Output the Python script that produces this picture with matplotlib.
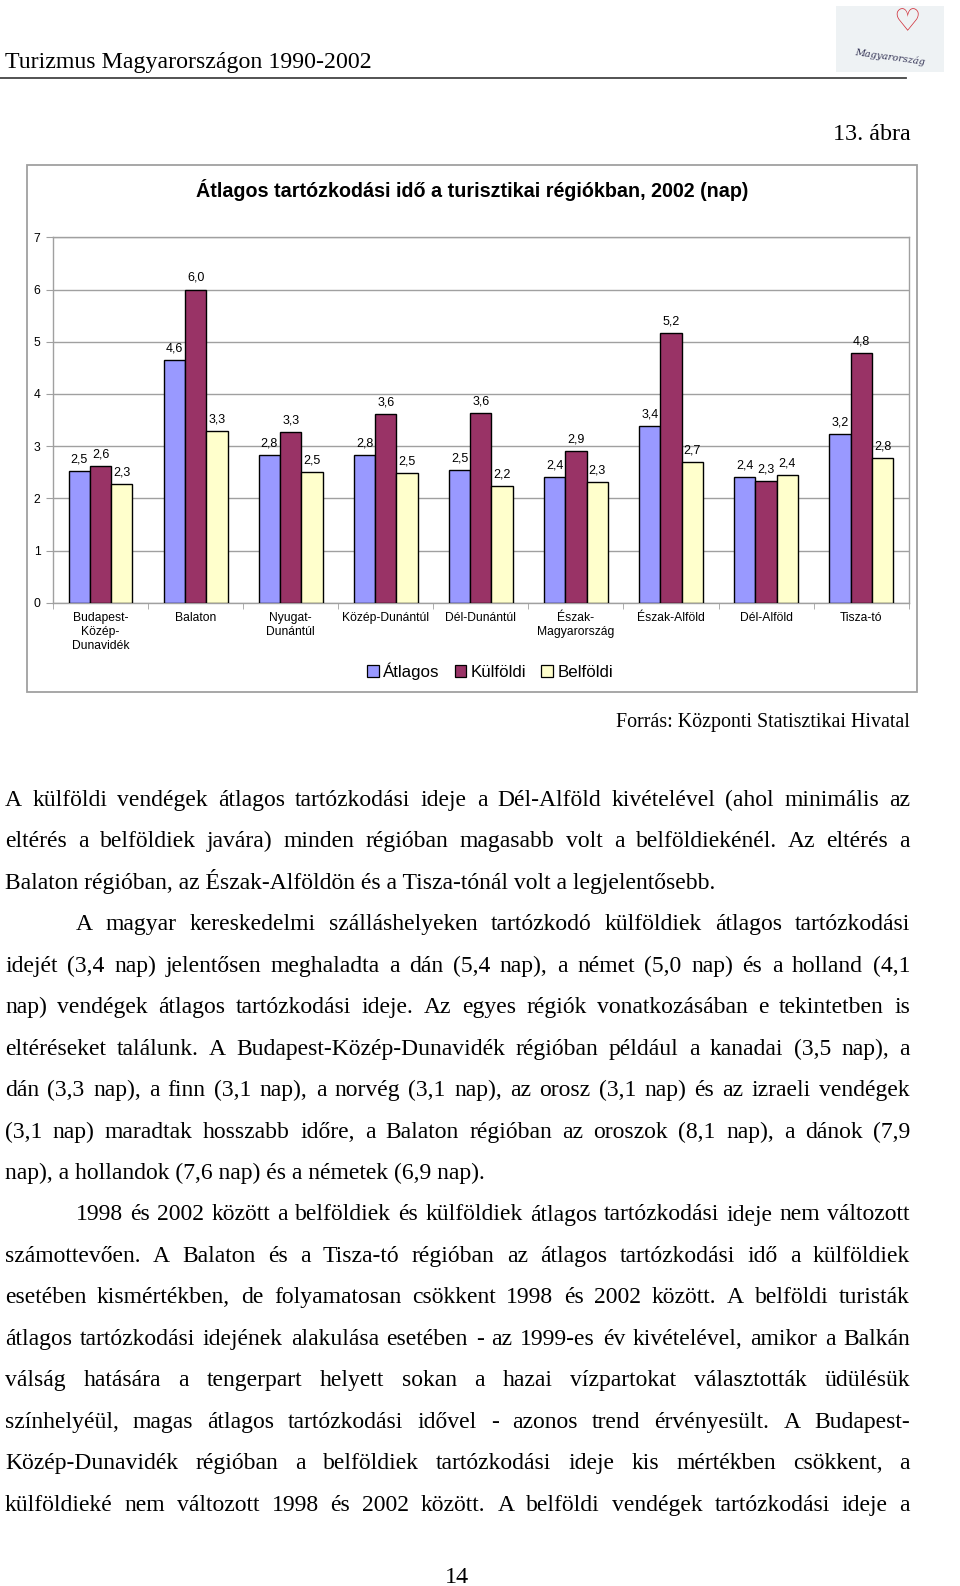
import numpy as np
import matplotlib.pyplot as plt
from matplotlib.patches import Rectangle, Patch
from matplotlib.lines import Line2D

# adatok (nap)
regiok = ["Budapest-\nKözép-\nDunavidék", "Balaton", "Nyugat-\nDunántúl", "Közép-Dunántúl",
          "Dél-Dunántúl", "Észak-\nMagyarország", "Észak-Alföld", "Dél-Alföld", "Tisza-tó"]
atlagos = [2.52, 4.64, 2.82, 2.82, 2.54, 2.40, 3.38, 2.41, 3.23]
kulfoldi = [2.61, 6.00, 3.27, 3.61, 3.64, 2.91, 5.17, 2.33, 4.79]
belfoldi = [2.27, 3.28, 2.51, 2.48, 2.24, 2.31, 2.70, 2.44, 2.77]
sorozatok = ["Átlagos", "Külföldi", "Belföldi"]
szinek = ["#9999FF", "#993366", "#FFFFCC"]

cim = "Átlagos tartózkodási idő a turisztikai régiókban, 2002 (nap)"
fejlec = "Turizmus Magyarországon 1990-2002"
forras = "Forrás: Központi Statisztikai Hivatal"

# szoveg sorai: (szoveg, behuzas, sorkizart)
sorok = [
    ("A külföldi vendégek átlagos tartózkodási ideje a Dél-Alföld kivételével (ahol minimális az", False, True),
    ("eltérés a belföldiek javára) minden régióban magasabb volt a belföldiekénél. Az eltérés a", False, True),
    ("Balaton régióban, az Észak-Alföldön és a Tisza-tónál volt a legjelentősebb.", False, False),
    ("A magyar kereskedelmi szálláshelyeken tartózkodó külföldiek átlagos tartózkodási", True, True),
    ("idejét (3,4 nap) jelentősen meghaladta a dán (5,4 nap), a német (5,0 nap) és a holland (4,1", False, True),
    ("nap) vendégek átlagos tartózkodási ideje. Az egyes régiók vonatkozásában e tekintetben is", False, True),
    ("eltéréseket találunk. A Budapest-Közép-Dunavidék régióban például a kanadai (3,5 nap), a", False, True),
    ("dán (3,3 nap), a finn (3,1 nap), a norvég (3,1 nap), az orosz (3,1 nap) és az izraeli vendégek", False, True),
    ("(3,1 nap) maradtak hosszabb időre, a Balaton régióban az oroszok (8,1 nap), a dánok (7,9", False, True),
    ("nap), a hollandok (7,6 nap) és a németek (6,9 nap).", False, False),
    ("1998 és 2002 között a belföldiek és külföldiek átlagos tartózkodási ideje nem változott", True, True),
    ("számottevően. A Balaton és a Tisza-tó régióban az átlagos tartózkodási idő a külföldiek", False, True),
    ("esetében kismértékben, de folyamatosan csökkent 1998 és 2002 között. A belföldi turisták", False, True),
    ("átlagos tartózkodási idejének alakulása esetében - az 1999-es év kivételével, amikor a Balkán", False, True),
    ("válság hatására a tengerpart helyett sokan a hazai vízpartokat választották üdülésük", False, True),
    ("színhelyéül, magas átlagos tartózkodási idővel - azonos trend érvényesült. A Budapest-", False, True),
    ("Közép-Dunavidék régióban a belföldiek tartózkodási ideje kis mértékben csökkent, a", False, True),
    ("külföldieké nem változott 1998 és 2002 között. A belföldi vendégek tartózkodási ideje a", False, True),
]

W, H = 960, 1586
fig = plt.figure(figsize=(W / 100, H / 100), dpi=100)
fig.patch.set_facecolor("white")

def fy(y):
    return 1 - y / H

serif = dict(family="Liberation Serif", color="black")
sans = "Liberation Sans"

# fejlec
fig.text(5 / W, fy(68), fejlec, fontsize=17.2, ha="left", va="baseline", **serif)
fig.add_artist(Line2D([0, 906 / W], [fy(78), fy(78)], transform=fig.transFigure, color="#444444", lw=1.3))
fig.text(911 / W, fy(140), "13. ábra", fontsize=17.4, ha="right", va="baseline", **serif)

# logo
lax = fig.add_axes([836 / W, fy(72), 108 / W, 66 / H])
lax.set_xlim(0, 1)
lax.set_ylim(0, 1)
lax.axis("off")
lax.add_patch(Rectangle((0, 0), 1, 1, facecolor="#EEF2F4", edgecolor="none"))
lax.text(0.66, 0.74, "♡", fontsize=22, color="#D0303A", ha="center", va="center", family="DejaVu Sans")
lax.text(0.5, 0.22, "Magyarország", fontsize=7, style="italic", color="#333355",
         ha="center", va="center", rotation=-8, family="DejaVu Serif")

# diagram kerete
fig.add_artist(Rectangle((27 / W, fy(692)), 890 / W, (692 - 165) / H, transform=fig.transFigure,
                         fill=False, edgecolor="#A0A0A0", lw=1.3))
fig.text(472 / W, fy(190), cim, fontsize=14.2, weight="bold", ha="center", va="center", family=sans)

ax = fig.add_axes([53 / W, fy(602.7), (908.7 - 53) / W, (602.7 - 237.3) / H])
x = np.arange(len(regiok))
bw = 0.224
for k, (vals, col) in enumerate(zip([atlagos, kulfoldi, belfoldi], szinek)):
    xs = x + (k - 1) * bw
    ax.bar(xs, vals, bw, color=col, edgecolor="black", linewidth=1.0, zorder=3)
    for xi, v in zip(xs, vals):
        ax.annotate(f"{v:.1f}".replace(".", ","), (xi, v), xytext=(0, 4), textcoords="offset points",
                    ha="center", va="bottom", fontsize=9, family=sans)

ax.set_xlim(-0.5, len(regiok) - 0.5)
ax.set_ylim(0, 7)
ax.set_yticks(range(8))
ax.yaxis.grid(True, color="#A0A0A0", lw=1.0, zorder=0)
ax.set_xticks(x)
ax.set_xticklabels(regiok, fontsize=8.7, family=sans, linespacing=1.2)
ax.set_xticks(np.arange(-0.5, len(regiok)), minor=True)
ax.tick_params(axis="x", which="major", length=0, pad=7)
ax.tick_params(axis="x", which="minor", length=4, color="#A0A0A0")
ax.tick_params(axis="y", length=5, color="#A0A0A0", pad=4, labelsize=8.7)
for lab in ax.get_yticklabels():
    lab.set_family(sans)
for s in ax.spines.values():
    s.set_color("#A0A0A0")
    s.set_linewidth(1.0)

handles = [Patch(facecolor=c, edgecolor="black", lw=0.9) for c in szinek]
leg = fig.legend(handles, sorozatok, loc="center", bbox_to_anchor=(490 / W, fy(671)), ncol=3,
                 frameon=False, prop={"family": sans, "size": 12.2}, handlelength=0.7,
                 handleheight=0.7, handletextpad=0.25, columnspacing=0.9, borderpad=0)

fig.text(910 / W, fy(727), forras, fontsize=14.4, ha="right", va="baseline", **serif)

# torzsszoveg, sorkizart
renderer = fig.canvas.get_renderer()
meret = 17.0
for i, (szoveg, behuz, sorkiz) in enumerate(sorok):
    y = 806 + 41.45 * i
    x0 = 76 if behuz else 5
    x1 = 910
    if not sorkiz:
        fig.text(x0 / W, fy(y), szoveg, fontsize=meret, ha="left", va="baseline", **serif)
        continue
    szavak = szoveg.split(" ")
    objs = [fig.text(0, fy(y), s, fontsize=meret, ha="left", va="baseline", **serif) for s in szavak]
    szel = [o.get_window_extent(renderer).width for o in objs]
    koz = (x1 - x0 - sum(szel)) / (len(szavak) - 1)
    xp = x0
    for o, w in zip(objs, szel):
        o.set_x(xp / W)
        xp += w + koz

fig.text(457 / W, fy(1583), "14", fontsize=17.4, ha="center", va="baseline", **serif)

fig.savefig("out.png", dpi=100)
